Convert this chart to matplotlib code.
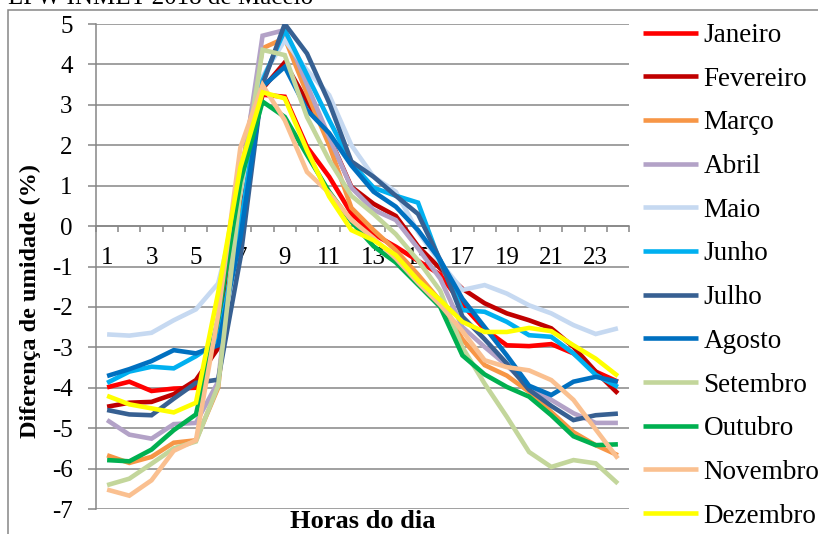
import numpy as np
import matplotlib
matplotlib.use("Agg")
import matplotlib.pyplot as plt
from matplotlib.patches import Rectangle

plt.rcParams['font.family'] = ['Liberation Serif', 'DejaVu Serif']
plt.rcParams['axes.unicode_minus'] = False

# Hourly humidity difference (%) per month
hours = list(range(1, 25))
months = ["Janeiro", "Fevereiro", "Março", "Abril", "Maio", "Junho",
          "Julho", "Agosto", "Setembro", "Outubro", "Novembro", "Dezembro"]

janeiro = [-3.99, -3.85, -4.08, -4.02, -4.00, -2.90, 0.80, 3.25, 3.20, 1.96, 1.22, 0.31,
           -0.20, -0.51, -0.86, -1.20, -1.95, -2.55, -2.95, -2.97, -2.92, -3.15, -3.60, -3.85]
fevereiro = [-4.47, -4.37, -4.35, -4.16, -3.81, -3.02, 0.50, 3.40, 4.05, 3.08, 2.21, 0.97,
             0.55, 0.25, -0.50, -1.05, -1.55, -1.91, -2.16, -2.33, -2.53, -2.99, -3.60, -4.14]
marco = [-5.67, -5.86, -5.71, -5.36, -5.30, -4.00, 1.20, 4.40, 4.65, 3.28, 2.00, 0.45,
         -0.10, -0.60, -1.20, -1.85, -2.80, -3.44, -3.70, -4.10, -4.60, -5.10, -5.42, -5.67]
abril = [-4.80, -5.16, -5.26, -4.90, -4.87, -3.85, 1.00, 4.71, 4.85, 3.50, 2.20, 0.95,
         0.40, 0.15, -0.55, -1.30, -2.50, -2.99, -3.45, -3.98, -4.30, -4.63, -4.87, -4.87]
maio = [-2.68, -2.71, -2.64, -2.33, -2.06, -1.42, 0.80, 3.70, 4.60, 3.86, 3.24, 2.00,
        1.22, 0.85, -0.15, -0.90, -1.58, -1.46, -1.67, -1.96, -2.16, -2.45, -2.67, -2.53]
junho = [-3.88, -3.60, -3.48, -3.52, -3.22, -2.85, 0.00, 3.60, 4.85, 3.74, 2.62, 1.56,
         0.95, 0.75, 0.58, -0.90, -2.08, -2.12, -2.37, -2.70, -2.74, -3.15, -3.68, -3.98]
julho = [-4.55, -4.66, -4.68, -4.27, -3.88, -3.80, -0.80, 3.50, 5.00, 4.27, 3.05, 1.60,
         1.22, 0.75, 0.30, -0.84, -2.24, -2.80, -3.40, -4.05, -4.45, -4.80, -4.68, -4.64]
agosto = [-3.71, -3.54, -3.34, -3.07, -3.15, -2.95, -0.30, 3.45, 3.94, 2.87, 2.30, 1.50,
          0.85, 0.48, -0.10, -0.84, -1.80, -2.50, -3.20, -3.95, -4.18, -3.85, -3.73, -3.85]
setembro = [-6.41, -6.25, -5.88, -5.50, -5.33, -3.95, 0.85, 4.36, 4.23, 2.70, 1.63, 0.75,
            0.30, -0.20, -0.85, -1.60, -3.00, -3.90, -4.72, -5.59, -5.96, -5.79, -5.87, -6.37]
outubro = [-5.79, -5.82, -5.53, -5.05, -4.66, -2.30, 1.10, 3.08, 2.70, 1.76, 0.85, 0.11,
           -0.50, -0.90, -1.45, -2.00, -3.20, -3.67, -3.98, -4.22, -4.68, -5.20, -5.42, -5.40]
novembro = [-6.52, -6.67, -6.29, -5.56, -5.30, -2.20, 1.94, 3.49, 2.62, 1.34, 0.82, 0.15,
            -0.30, -0.80, -1.40, -1.95, -2.60, -3.32, -3.49, -3.57, -3.81, -4.30, -5.03, -5.75]
dezembro = [-4.20, -4.41, -4.51, -4.61, -4.37, -1.65, 1.45, 3.31, 3.16, 1.88, 0.73, -0.10,
            -0.35, -0.72, -1.34, -1.83, -2.37, -2.62, -2.62, -2.52, -2.60, -2.95, -3.28, -3.71]

series = [janeiro, fevereiro, marco, abril, maio, junho,
          julho, agosto, setembro, outubro, novembro, dezembro]
colors = ["#FF0000", "#C00000", "#F79646", "#B3A2C7", "#C6D9F1", "#00B0F0",
          "#376092", "#0070C0", "#C3D69B", "#00B050", "#FAC090", "#FFFF00"]

x_tick_values = list(range(1, 24, 2))
x_tick_labels = [str(v) for v in x_tick_values]
y_tick_values = list(range(-7, 6))
y_tick_labels = [str(v) for v in y_tick_values]

GRID = "#868686"
W, H = 818, 534

fig = plt.figure(figsize=(W / 100, H / 100), dpi=100)
ax = fig.add_axes([96 / W, 25 / H, 533 / W, 485 / H])

lines = []
for vals, name, col in zip(series, months, colors):
    ln, = ax.plot(hours, vals, color=col, lw=3.3, solid_joinstyle='miter',
                  solid_capstyle='butt', label=name, zorder=3)
    lines.append(ln)

ax.set_xlim(0.5, 24.5)
ax.set_ylim(-7, 5)

ax.set_yticks(y_tick_values)
ax.set_yticklabels(y_tick_labels)
ax.yaxis.grid(True, color=GRID, lw=1.1)
ax.set_axisbelow(True)

ax.set_xticks(x_tick_values)
ax.set_xticklabels(x_tick_labels)
ax.set_xticks(np.arange(0.5, 25, 1), minor=True)

for s in ("top", "right"):
    ax.spines[s].set_visible(False)
ax.spines["left"].set_color(GRID)
ax.spines["left"].set_linewidth(1.1)
ax.spines["bottom"].set_position(("data", 0))
ax.spines["bottom"].set_color(GRID)
ax.spines["bottom"].set_linewidth(1.1)
ax.spines["bottom"].set_zorder(2)

ax.tick_params(axis="y", length=5.8, width=1.1, color=GRID, pad=11, labelsize=18)
ax.tick_params(axis="x", which="major", length=0, pad=15, labelsize=18)
ax.tick_params(axis="x", which="minor", length=4.3, width=1.1, color=GRID)

fig.text(8 / W, 1 - 4.5 / H, "LPW INMET 2018 de Maceió", fontsize=18,
         ha="left", va="baseline")
fig.text(30 / W, 1 - 301 / H, "Diferença de umidade (%)", fontsize=17.5,
         fontweight="bold", rotation=90, ha="center", va="center")
fig.text(363 / W, 1 - 528 / H, "Horas do dia", fontsize=19,
         fontweight="bold", ha="center", va="baseline")

fig.legend(lines, months, loc="upper left",
           bbox_to_anchor=(643 / W, 1 - 23 / H), frameon=False, fontsize=19.5,
           handlelength=2.04, handletextpad=0.19, labelspacing=0.69,
           borderpad=0, borderaxespad=0)

fig.patches.append(Rectangle((8 / W, -0.5), 2, (1 - 10 / H) + 0.5,
                             transform=fig.transFigure, fill=False,
                             edgecolor=GRID, lw=1.1))

fig.savefig("out.png", dpi=100)
